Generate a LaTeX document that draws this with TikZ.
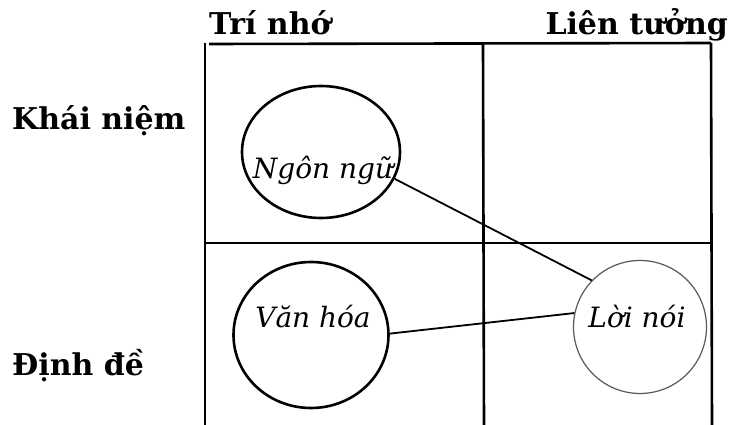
\documentclass[tikz,border=0pt]{standalone}
\usepackage{fontspec}
\setmainfont{DejaVu Serif}
\usetikzlibrary{shapes.geometric}
\begin{document}
\begin{tikzpicture}[x=1pt,y=-1pt,
  head/.style={font=\bfseries\fontsize{30}{36}\selectfont, inner sep=0pt},
  word/.style={font=\itshape\fontsize{28}{34}\selectfont, inner sep=0pt, anchor=base},
  grid/.style={line width=2.6pt, black},
  bubble/.style={ellipse, draw, line width=2.6pt, inner sep=0pt},
  link/.style={line width=1.8pt, black}]
\useasboundingbox (0,0) rectangle (732,425);
% headers
\node[head, anchor=base west] (tri) at (209,35) {Trí nhớ};
\node[head, anchor=base east] (lien) at (728,35) {Liên tưởng};
\node[head, anchor=base west] (khai) at (12,130) {Khái niệm};
\node[head, anchor=base west] (dinh) at (12,375) {Định đề};
% grid
\coordinate (tl) at (205,43);
\coordinate (bl) at (205,425);
\coordinate (tm) at (483,44);
\coordinate (bm) at (484,425);
\coordinate (tr) at (711,43);
\coordinate (br) at (712,425);
\coordinate (th) at (209,44);
\coordinate (ml) at (206,243);
\coordinate (mr) at (712,243);
\draw[grid] (tl) -- (bl);
\draw[grid] (tm) -- (bm);
\draw[grid] (tr) -- (br);
\draw[grid] (th) -- (tr);
\draw[grid] (ml) -- (mr);
% bubbles
\node[bubble, minimum width=158pt, minimum height=132pt] (ngon) at (321,152) {};
\node[bubble, minimum width=155pt, minimum height=146pt] (van) at (311,335) {};
\node[ellipse, draw, line width=1.2pt, black!65, inner sep=0pt, minimum width=133pt, minimum height=133pt] (loi) at (640,327) {};
\node[word] (tngon) at (323,179) {Ngôn ngữ};
\node[word] (tvan) at (313,327) {Văn hóa};
\node[word] (tloi) at (637,327) {Lời nói};
% links
\draw[link] (ngon.-20) -- (loi.136);
\draw[link] (van.1) -- (loi.168);
\end{tikzpicture}
\end{document}
